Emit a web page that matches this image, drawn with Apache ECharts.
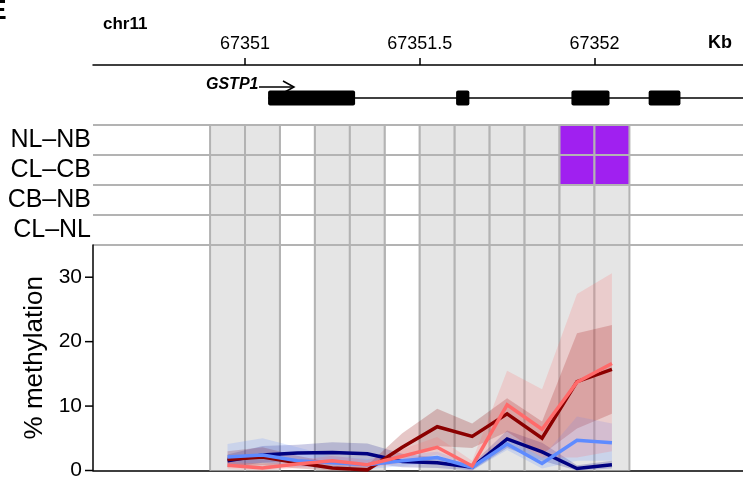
<!DOCTYPE html>
<html>
<head>
<meta charset="utf-8">
<script src="https://cdn.jsdelivr.net/npm/echarts@6/dist/echarts.min.js"></script>
<style>
  html, body { margin: 0; padding: 0; background: #fff; }
  #chart { width: 743px; height: 481px; }
</style>
</head>
<body>
<div id="chart"></div>
<script>
// shown window on chr11, in kb
let xMin = 67350.565
let xMax = 67352.425
let topTicks = [67351, 67351.5, 67352]

// GSTP1 exons (kb)
let exonStart = [67351.066, 67351.604, 67351.934, 67352.155]
let exonEnd = [67351.315, 67351.642, 67352.043, 67352.246]
let geneStart = 67351.066

// 100bp bins
let binEdges = [67350.9, 67351.0, 67351.1, 67351.2, 67351.3, 67351.4, 67351.5, 67351.6, 67351.7, 67351.8, 67351.9, 67352.0, 67352.1]
let binCovered = [1, 1, 0, 1, 1, 0, 1, 1, 1, 1, 1, 1]
let cpgPos = [67350.95, 67351.05, 67351.15, 67351.25, 67351.35, 67351.45, 67351.55, 67351.65, 67351.75, 67351.85, 67351.95, 67352.05]

let rowLabels = ['NL–NB', 'CL–CB', 'CB–NB', 'CL–NL']
// significant cells: [row, bin]
let sigCells = [[0, 10], [0, 11], [1, 10], [1, 11]]

let yMax = 35
let yTicks = [0, 10, 20, 30]

// % methylation per bin
let darkRedMean = [1.7, 2.1, 1.2, 0.4, 0.1, 3.6, 6.8, 5.3, 8.8, 5.0, 13.8, 15.7]
let darkRedLow  = [0.5, 0.8, 0.3, 0.0, 0.0, 2.3, 3.8, 3.5, 6.0, 2.5, 6.5, 8.8]
let darkRedHigh = [3.0, 3.6, 2.3, 1.2, 0.8, 5.8, 9.6, 7.3, 11.2, 7.6, 21.3, 22.6]

let salmonMean = [0.8, 0.4, 1.0, 1.5, 0.9, 2.2, 3.6, 0.7, 10.2, 6.4, 13.7, 16.6]
let salmonLow  = [0.2, 0.0, 0.4, 0.8, 0.3, 1.2, 2.5, 0.0, 5.0, 2.0, 2.0, 3.0]
let salmonHigh = [1.4, 1.0, 1.6, 2.3, 1.6, 3.3, 5.2, 1.5, 15.5, 12.6, 27.4, 30.6]

let navyMean = [1.5, 2.4, 2.7, 2.8, 2.6, 1.4, 1.2, 0.5, 4.9, 2.9, 0.3, 0.9]
let navyLow  = [0.5, 1.2, 1.5, 1.5, 1.2, 0.5, 0.4, 0.0, 3.5, 1.5, 0.0, 0.3]
let navyHigh = [2.5, 3.8, 4.0, 4.4, 4.2, 2.6, 2.0, 1.0, 6.2, 4.3, 0.8, 1.5]

let blueMean = [2.1, 2.4, 1.5, 1.2, 0.9, 1.5, 2.0, 0.5, 4.1, 1.1, 4.7, 4.3]
let blueLow  = [1.0, 1.2, 0.6, 0.4, 0.2, 0.7, 1.2, 0.0, 3.2, 0.3, 1.5, 1.5]
let blueHigh = [4.1, 5.0, 3.6, 2.2, 1.8, 2.4, 2.9, 1.0, 5.2, 2.0, 8.4, 7.3]

let font = "'Liberation Sans', Arial, sans-serif"

let groups = [
  {mean: navyMean, low: navyLow, high: navyHigh, color: '#000080', band: 'rgba(0,0,128,0.2)'},
  {mean: darkRedMean, low: darkRedLow, high: darkRedHigh, color: '#8B0000', band: 'rgba(139,0,0,0.22)'},
  {mean: blueMean, low: blueLow, high: blueHigh, color: '#5E8BFF', band: 'rgba(94,139,255,0.2)'},
  {mean: salmonMean, low: salmonLow, high: salmonHigh, color: '#FF6A6A', band: 'rgba(255,106,106,0.2)'}
]

let cellData = []
for (let r = 0; r < rowLabels.length; r++) {
  for (let c = 0; c < binCovered.length; c++) {
    let sig = sigCells.some(s => s[0] === r && s[1] === c) ? 1 : 0
    cellData.push([binEdges[c], binEdges[c + 1], r, binCovered[c], sig])
  }
}
let colData = binCovered.map((v, c) => [binEdges[c], binEdges[c + 1], v])

// plot area is 650px wide for the kb window; the tick-only axis covers first..last tick
let pxPerKb = 650 / (xMax - xMin)
let tickLeft = 93 + (topTicks[0] - xMin) * pxPerKb
let tickRight = 743 - (93 + (topTicks[topTicks.length - 1] - xMin) * pxPerKb)

// black tick / line helper
function blackLine(x1, y1, x2, y2) {
  return {type: 'line', shape: {x1: x1, y1: y1, x2: x2, y2: y2}, style: {stroke: '#000', lineWidth: 1.5}}
}

let option = {
  animation: false,
  textStyle: {fontFamily: font},
  grid: [
    {left: 93, right: 0, top: 65, height: 66},
    {left: 93, right: 0, top: 125, height: 120},
    {left: 93, right: 0, top: 245, bottom: 6},
    {left: tickLeft, right: tickRight, top: 65, height: 10}
  ],
  xAxis: [
    {
      gridIndex: 0, type: 'value', position: 'top', min: xMin, max: xMax,
      axisLine: {onZero: false, lineStyle: {color: '#000', width: 1.5}},
      axisTick: {show: false},
      axisLabel: {customValues: topTicks, margin: 12, fontSize: 18, color: '#000', formatter: v => String(v)},
      splitLine: {show: false}
    },
    {gridIndex: 1, type: 'value', min: xMin, max: xMax, show: false},
    {
      gridIndex: 2, type: 'value', min: xMin, max: xMax,
      axisLine: {onZero: false, lineStyle: {color: '#000', width: 1.5}},
      axisTick: {show: false}, axisLabel: {show: false}, splitLine: {show: false}
    },
    {
      // kb ticks only
      gridIndex: 3, type: 'value', position: 'top', min: topTicks[0], max: topTicks[topTicks.length - 1], interval: 0.5,
      axisLine: {show: false, onZero: false},
      axisTick: {show: true, length: 7, lineStyle: {color: '#000', width: 1.5}},
      axisLabel: {show: false}, splitLine: {show: false}
    }
  ],
  yAxis: [
    {gridIndex: 0, type: 'value', min: -1, max: 1, show: false},
    {
      gridIndex: 1, type: 'category', inverse: true, data: rowLabels,
      axisLine: {show: false}, axisTick: {show: false, interval: 0},
      axisLabel: {interval: 0, fontSize: 25, color: '#000', margin: 2},
      splitLine: {show: true, interval: 0, lineStyle: {color: '#B3B3B3', width: 2}}
    },
    {
      gridIndex: 2, type: 'value', min: 0, max: yMax,
      name: '% methylation', nameLocation: 'middle', nameRotate: 90, nameGap: 41,
      nameTextStyle: {fontSize: 26, color: '#000'},
      axisLine: {show: true, onZero: false, lineStyle: {color: '#000', width: 1.5}},
      axisTick: {show: false},
      axisLabel: {customValues: yTicks, fontSize: 21, color: '#000', margin: 11},
      splitLine: {show: false}
    },
    {gridIndex: 3, type: 'value', min: 0, max: 1, show: false}
  ],
  graphic: [
    {type: 'text', left: -12, top: -3, style: {text: 'E', font: 'bold 28px ' + font, fill: '#000'}},
    {type: 'text', left: 103, top: 16, style: {text: 'chr11', font: 'bold 17px ' + font, fill: '#000'}},
    {type: 'text', left: 708, top: 34, style: {text: 'Kb', font: 'bold 18px ' + font, fill: '#000'}},
    {type: 'text', left: 206, top: 77, style: {text: 'GSTP1', font: 'italic bold 16px ' + font, fill: '#000'}},
    {type: 'line', shape: {x1: 259, y1: 87, x2: 294, y2: 87}, style: {stroke: '#000', lineWidth: 1.5}},
    {type: 'polyline', shape: {points: [[283, 81], [294, 87], [283, 93]]}, style: {stroke: '#000', lineWidth: 1.5, fill: null}}
  ],
  series: [
    // gene line
    {
      type: 'custom', xAxisIndex: 0, yAxisIndex: 0, clip: false,
      data: [[geneStart, xMax]],
      renderItem(params, api) {
        let a = api.coord([api.value(0), 0])
        let b = api.coord([api.value(1), 0])
        return blackLine(a[0], a[1], b[0], b[1])
      }
    },
    {
      type: 'custom', xAxisIndex: 0, yAxisIndex: 0,
      data: exonStart.map((s, i) => [s, exonEnd[i]]),
      renderItem(params, api) {
        let a = api.coord([api.value(0), 0])
        let b = api.coord([api.value(1), 0])
        return {type: 'rect', shape: {x: a[0], y: a[1] - 7.5, width: b[0] - a[0], height: 15, r: 2}, style: {fill: '#000'}}
      }
    },
    // DMR heatmap
    {
      type: 'custom', xAxisIndex: 1, yAxisIndex: 1,
      data: cellData,
      encode: {x: [0, 1], y: 2},
      renderItem(params, api) {
        let a = api.coord([api.value(0), api.value(2)])
        let b = api.coord([api.value(1), api.value(2)])
        let h = api.size([0, 1])[1]
        let fill = api.value(4) ? '#A020F0' : (api.value(3) ? '#E5E5E5' : '#fff')
        return {type: 'rect', shape: {x: a[0], y: a[1] - h / 2, width: b[0] - a[0], height: h}, style: {fill: fill, stroke: '#B3B3B3', lineWidth: 2}}
      }
    },
    // columns behind the methylation lines
    {
      type: 'custom', xAxisIndex: 2, yAxisIndex: 2, z: 1,
      data: colData,
      encode: {x: [0, 1]},
      renderItem(params, api) {
        let a = api.coord([api.value(0), 0])
        let b = api.coord([api.value(1), yMax])
        return {
          type: 'group',
          children: [
            {type: 'rect', shape: {x: a[0], y: b[1], width: b[0] - a[0], height: a[1] - b[1]}, style: {fill: api.value(2) ? '#E5E5E5' : 'rgba(0,0,0,0)'}},
            {type: 'line', shape: {x1: a[0], y1: a[1], x2: a[0], y2: b[1]}, style: {stroke: '#B3B3B3', lineWidth: 2}},
            {type: 'line', shape: {x1: b[0], y1: a[1], x2: b[0], y2: b[1]}, style: {stroke: '#B3B3B3', lineWidth: 2}}
          ]
        }
      }
    },
    // y axis ticks
    {
      type: 'custom', xAxisIndex: 2, yAxisIndex: 2, clip: false, z: 5,
      data: yTicks.map(v => [xMin, v]),
      renderItem(params, api) {
        let p = api.coord([xMin, api.value(1)])
        return blackLine(p[0] - 8, p[1], p[0], p[1])
      }
    },
    // ribbons
    {
      type: 'custom', xAxisIndex: 2, yAxisIndex: 2, z: 2,
      data: groups.map(() => [cpgPos[0], 0]),
      renderItem(params, api) {
        let g = groups[params.dataIndex]
        let pts = []
        for (let i = 0; i < cpgPos.length; i++) pts.push(api.coord([cpgPos[i], g.high[i]]))
        for (let i = cpgPos.length - 1; i >= 0; i--) pts.push(api.coord([cpgPos[i], g.low[i]]))
        return {type: 'polygon', shape: {points: pts}, style: {fill: g.band}}
      }
    }
  ].concat(groups.map(g => ({
    type: 'line', xAxisIndex: 2, yAxisIndex: 2, z: 3,
    data: cpgPos.map((x, i) => [x, g.mean[i]]),
    showSymbol: false,
    lineStyle: {color: g.color, width: 3.5, join: 'miter'}
  })))
}

let myChart = echarts.init(document.getElementById('chart'))
myChart.setOption(option)
</script>
</body>
</html>
